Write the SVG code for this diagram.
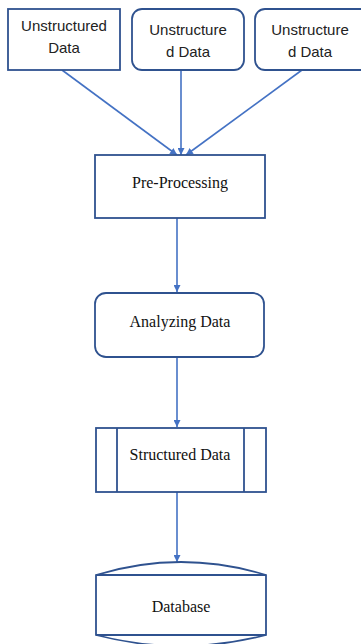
<svg xmlns="http://www.w3.org/2000/svg" width="361" height="644" viewBox="0 0 361 644">
<defs>
<style>
.box{fill:#fff;stroke:#2f528f;stroke-width:1.8}
.sans{font-family:"Liberation Sans","Open Sans",sans-serif;font-size:15px;fill:#222;text-anchor:middle}
.serif{font-family:"Liberation Serif","Times New Roman",serif;font-size:16px;fill:#111;text-anchor:middle}
.conn{stroke:#4472c4;stroke-width:1.6;fill:none;marker-end:url(#arr)}
</style>
<marker id="arr" viewBox="0 0 10 10" refX="10" refY="5" markerWidth="7" markerHeight="7" markerUnits="userSpaceOnUse" orient="auto">
<path d="M0,0 L10,5 L0,10 z" fill="#4472c4"/>
</marker>
</defs>
<rect width="361" height="644" fill="#fff"/>
<g id="connectors">
<line class="conn" x1="62" y1="70" x2="177" y2="155"/>
<line class="conn" x1="181" y1="70" x2="181" y2="155"/>
<line class="conn" x1="302" y1="70" x2="186" y2="155"/>
<line class="conn" x1="177" y1="218" x2="177" y2="292"/>
<line class="conn" x1="177" y1="357" x2="177" y2="427"/>
<line class="conn" x1="177" y1="492" x2="177" y2="562"/>
</g>
<g id="n1">
<rect class="box" x="8" y="9" width="112" height="61"/>
<text class="sans" x="64" y="31">Unstructured</text>
<text class="sans" x="64" y="53">Data</text>
</g>
<g id="n2">
<rect class="box" x="132" y="9" width="112" height="61" rx="10"/>
<text class="sans" x="188" y="35">Unstructure</text>
<text class="sans" x="188" y="57">d Data</text>
</g>
<g id="n3">
<rect class="box" x="255" y="9" width="120" height="61" rx="10"/>
<text class="sans" x="310" y="35">Unstructure</text>
<text class="sans" x="310" y="57">d Data</text>
</g>
<g id="n4">
<rect class="box" x="95" y="155" width="170" height="63"/>
<text class="serif" x="180" y="188">Pre-Processing</text>
</g>
<g id="n5">
<rect class="box" x="95" y="293" width="169" height="64" rx="11"/>
<text class="serif" x="180" y="327">Analyzing Data</text>
</g>
<g id="n6">
<rect class="box" x="96" y="428" width="170" height="64"/>
<line class="box" x1="117" y1="428" x2="117" y2="492"/>
<line class="box" x1="244" y1="428" x2="244" y2="492"/>
<text class="serif" x="180" y="460">Structured Data</text>
</g>
<g id="n7">
<path class="box" d="M96,575 Q181,549 266,575 L266,635 Q181,657 96,635 Z"/>
<line class="box" x1="96" y1="575" x2="266" y2="575"/>
<line class="box" x1="96" y1="635" x2="266" y2="635"/>
<text class="serif" x="181" y="612">Database</text>
</g>
</svg>
